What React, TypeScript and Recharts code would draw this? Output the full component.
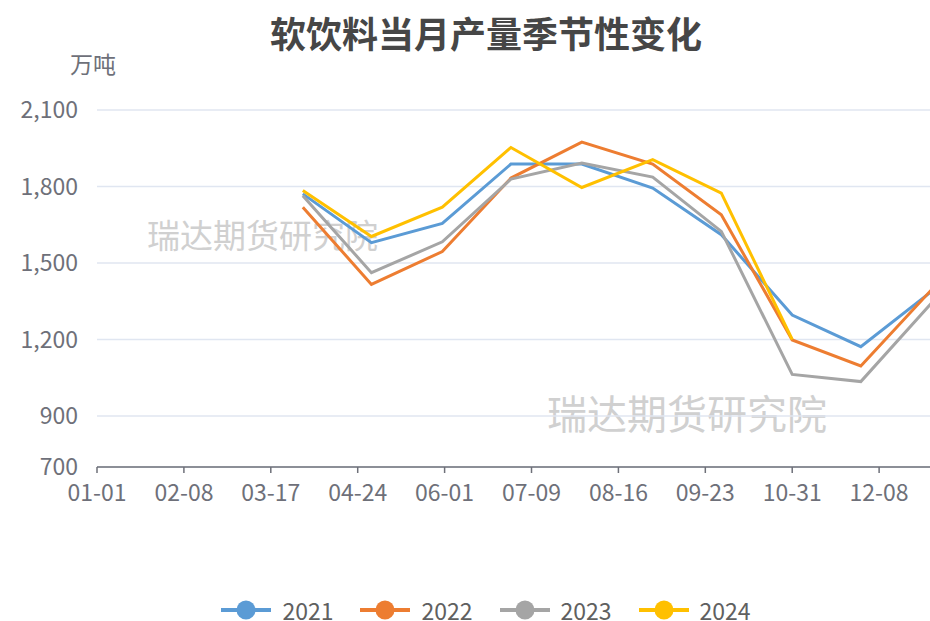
import React from 'react'
import { CartesianGrid, Legend, Line, LineChart, XAxis, YAxis } from 'recharts'

// month-end dates, plotted on a 2024 (leap year) calendar
const monthEnds = ['2024-03-31', '2024-04-30', '2024-05-31', '2024-06-30', '2024-07-31', '2024-08-31', '2024-09-30', '2024-10-31', '2024-11-30', '2024-12-31']
const years = ['2021', '2022', '2023', '2024']
const s2021 = [1771, 1580, 1655, 1888, 1888, 1794, 1611, 1296, 1172, 1389]
const s2022 = [1719, 1416, 1545, 1833, 1974, 1888, 1689, 1198, 1096, 1396]
const s2023 = [1764, 1462, 1583, 1829, 1892, 1837, 1624, 1063, 1035, 1344]
const s2024 = [1784, 1604, 1719, 1953, 1796, 1905, 1774, 1200, null, null]
const colors = ['#5B9BD5', '#ED7D31', '#A5A5A5', '#FFC000']
const yTicks = [700, 900, 1200, 1500, 1800, 2100]
const xTicks = [0, 38, 76, 114, 152, 190, 228, 266, 304, 342]

const FONT = "'Noto Sans CJK SC', 'Microsoft YaHei', sans-serif"
const DAY = 86400000
const start = Date.UTC(2024, 0, 1)
const dayOf = (s: string) => Math.round((Date.parse(s + 'T00:00:00Z') - start) / DAY)
const fmtDay = (d: number) => {
  const dt = new Date(start + d * DAY)
  const mm = String(dt.getUTCMonth() + 1).padStart(2, '0')
  const dd = String(dt.getUTCDate()).padStart(2, '0')
  return `${mm}-${dd}`
}

const series = [s2021, s2022, s2023, s2024]
const data = monthEnds.map((m, i) => {
  const row: Record<string, number | null> = { day: dayOf(m) }
  years.forEach((y, k) => { row[y] = series[k][i] })
  return row
})

const LegendContent = ({ payload }: any) => (
  <div style={{ display: 'flex', justifyContent: 'center', alignItems: 'center', gap: 27, fontFamily: FONT }}>
    {(payload || []).map((p: any) => (
      <div key={p.value} style={{ display: 'flex', alignItems: 'center', gap: 11 }}>
        <svg width={50} height={20} style={{ flexShrink: 0 }}>
          <line x1={0} y1={10} x2={50} y2={10} stroke={p.color} strokeWidth={4} />
          <circle cx={25} cy={10} r={9.5} fill={p.color} />
        </svg>
        <span style={{ fontSize: 23, lineHeight: '34px', color: '#606060', whiteSpace: 'nowrap' }}>{p.value}</span>
      </div>
    ))}
  </div>
)

export default function App() {
  return (
    <div style={{ position: 'fixed', left: 0, top: 0, width: 930, height: 621, overflow: 'hidden', background: '#fff', fontFamily: FONT }}>
      <div style={{ position: 'absolute', left: 42, top: 14, width: 888, textAlign: 'center', fontSize: 36, lineHeight: '36px', fontWeight: 'bold', color: '#464646' }}>
        软饮料当月产量季节性变化
      </div>
      <div style={{ position: 'absolute', left: 70, top: 52, fontSize: 23, lineHeight: '23px', color: '#6E7079' }}>万吨</div>
      <div style={{ position: 'absolute', left: 147, top: 218, fontSize: 33, lineHeight: '33px', color: '#d0d0d0' }}>瑞达期货研究院</div>
      <div style={{ position: 'absolute', left: 547, top: 392, fontSize: 40, lineHeight: '40px', color: '#d0d0d0' }}>瑞达期货研究院</div>
      <div style={{ position: 'absolute', left: 0, top: 0 }}>
        <LineChart width={940} height={621} data={data} margin={{ top: 110, right: 6, bottom: 0, left: 0 }}>
          <CartesianGrid vertical={false} stroke="#E0E6F1" strokeWidth={1.5} />
          <XAxis
            dataKey="day"
            type="number"
            domain={[0, 366]}
            ticks={xTicks}
            interval={0}
            tickFormatter={fmtDay}
            height={154}
            stroke="#6E7079"
            strokeWidth={1.5}
            tickSize={6}
            tickMargin={12}
            tick={{ fill: '#6E7079', fontSize: 23, fontFamily: FONT }}
          />
          <YAxis
            type="number"
            domain={[700, 2100]}
            ticks={yTicks}
            width={97}
            axisLine={false}
            tickLine={false}
            tickSize={0}
            tickMargin={19}
            tickFormatter={(v: number) => v.toLocaleString('en-US')}
            tick={{ fill: '#6E7079', fontSize: 23, fontFamily: FONT }}
          />
          <Legend verticalAlign="middle" content={<LegendContent />} wrapperStyle={{ top: 593, left: 42, width: 888, height: 'auto' }} />
          {years.map((y, k) => (
            <Line key={y} dataKey={y} name={y} type="linear" stroke={colors[k]} strokeWidth={3} dot={false} activeDot={false} isAnimationActive={false} />
          ))}
        </LineChart>
      </div>
    </div>
  )
}
